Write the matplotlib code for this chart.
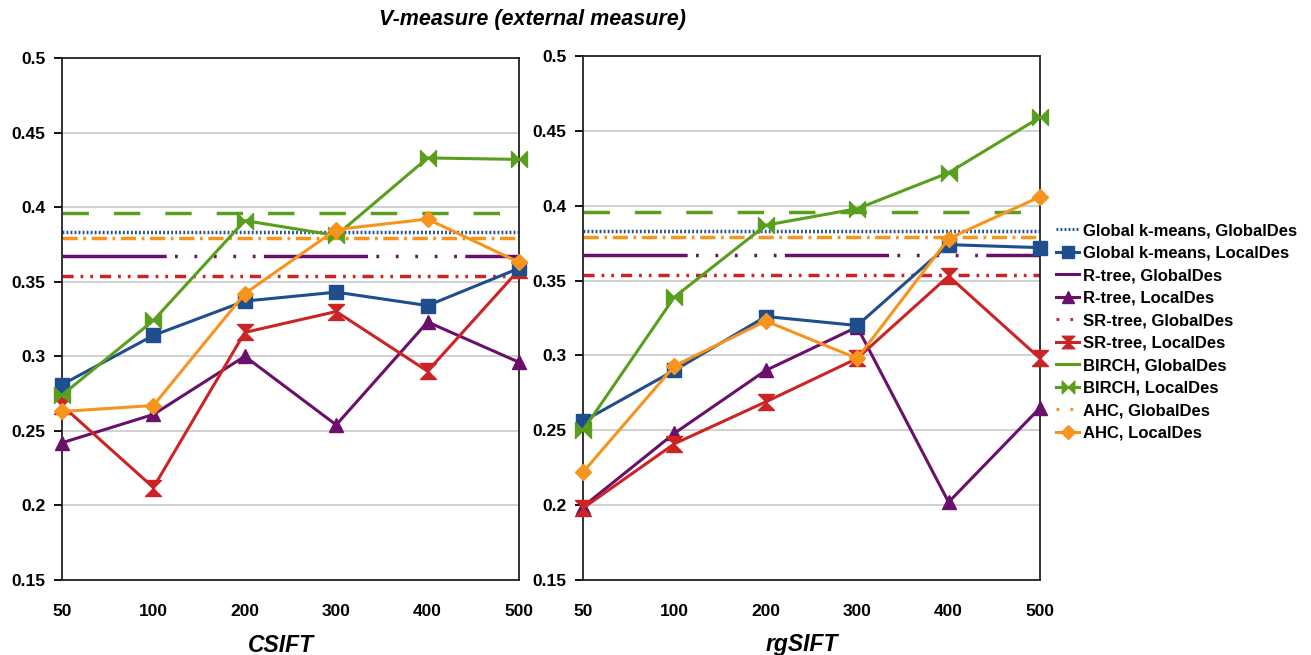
import matplotlib
matplotlib.use("Agg")
import matplotlib.pyplot as plt
from matplotlib.path import Path
from matplotlib.lines import Line2D

plt.rcParams['font.family'] = ['Liberation Sans', 'DejaVu Sans']
plt.rcParams['font.weight'] = 'bold'
plt.rcParams['lines.scale_dashes'] = False

# dados
tamanhos = ['50', '100', '200', '300', '400', '500']
y_ticks = [0.15, 0.2, 0.25, 0.3, 0.35, 0.4, 0.45, 0.5]
y_tick_labels = ['0.15', '0.2', '0.25', '0.3', '0.35', '0.4', '0.45', '0.5']

# valores globais (linhas horizontais), iguais nos dois paineis
kmeans_global = 0.383
rtree_global = 0.367
srtree_global = 0.354
birch_global = 0.396
ahc_global = 0.379

# CSIFT
csift_kmeans_local = [0.281, 0.314, 0.337, 0.343, 0.334, 0.359]
csift_rtree_local = [0.242, 0.261, 0.300, 0.254, 0.323, 0.296]
csift_srtree_local = [0.267, 0.212, 0.316, 0.330, 0.290, 0.358]
csift_birch_local = [0.274, 0.324, 0.391, 0.381, 0.433, 0.432]
csift_ahc_local = [0.263, 0.267, 0.342, 0.385, 0.392, 0.363]

# rgSIFT
rgsift_kmeans_local = [0.256, 0.290, 0.326, 0.320, 0.374, 0.372]
rgsift_rtree_local = [0.199, 0.248, 0.290, 0.319, 0.202, 0.265]
rgsift_srtree_local = [0.198, 0.241, 0.269, 0.298, 0.353, 0.298]
rgsift_birch_local = [0.250, 0.339, 0.387, 0.398, 0.422, 0.459]
rgsift_ahc_local = [0.222, 0.293, 0.323, 0.298, 0.378, 0.406]

azul = '#1f4e8f'
roxo = '#69106b'
vermelho = '#cc2424'
verde = '#5a9e1e'
laranja = '#f7941d'

ampulheta = Path([(-1, 1), (1, 1), (0, 0), (-1, 1), (-1, -1), (1, -1), (0, 0), (-1, -1)],
                 [Path.MOVETO, Path.LINETO, Path.LINETO, Path.CLOSEPOLY,
                  Path.MOVETO, Path.LINETO, Path.LINETO, Path.CLOSEPOLY])
gravata = Path([(-1, 1), (-1, -1), (0, 0), (-1, 1), (1, 1), (1, -1), (0, 0), (1, 1)],
               [Path.MOVETO, Path.LINETO, Path.LINETO, Path.CLOSEPOLY,
                Path.MOVETO, Path.LINETO, Path.LINETO, Path.CLOSEPOLY])

estilo_kmeans = (0, (1.3, 1.6))
estilo_rtree = (0, (75, 6, 2, 12, 2, 12, 2, 12, 2, 12, 2, 6))
estilo_srtree = (0, (8, 5, 2, 5, 2, 5))
estilo_birch = (0, (19, 18))
estilo_ahc = (0, (11, 4, 2, 4))

fig = plt.figure(figsize=(13.11, 6.55), dpi=100)
ax1 = fig.add_axes([62/1311, 1-580/655, 457/1311, 522/655])
ax2 = fig.add_axes([583/1311, 1-580/655, 457/1311, 524/655])

x = list(range(len(tamanhos)))
lw = 2.2


def desenha(ax, kmeans, rtree, srtree, birch, ahc, nome):
    for v in y_ticks:
        ax.axhline(v, color='#c8c8c8', linewidth=1.2, zorder=0)
    ax.axhline(birch_global, color=verde, linewidth=lw + 0.3, linestyle=estilo_birch, zorder=1)
    ax.axhline(kmeans_global, color=azul, linewidth=lw + 0.3, linestyle=estilo_kmeans, zorder=1)
    ax.axhline(ahc_global, color=laranja, linewidth=lw + 0.3, linestyle=estilo_ahc, zorder=1)
    ax.axhline(rtree_global, color=roxo, linewidth=lw + 0.3, linestyle=estilo_rtree, zorder=1)
    ax.axhline(srtree_global, color=vermelho, linewidth=lw + 0.3, linestyle=estilo_srtree, zorder=1)

    ax.plot(x, rtree, color=roxo, linewidth=lw, marker='^', markersize=10.5, clip_on=False, zorder=3)
    ax.plot(x, srtree, color=vermelho, linewidth=lw, marker=ampulheta, markersize=11.5, clip_on=False, zorder=3)
    ax.plot(x, kmeans, color=azul, linewidth=lw, marker='s', markersize=10.5, clip_on=False, zorder=3)
    ax.plot(x, birch, color=verde, linewidth=lw, marker=gravata, markersize=11.5, clip_on=False, zorder=3)
    ax.plot(x, ahc, color=laranja, linewidth=lw, marker='D', markersize=8, clip_on=False, zorder=4)

    ax.set_xlim(0, 5)
    ax.set_ylim(0.15, 0.5)
    ax.set_xticks(x)
    ax.set_xticklabels(tamanhos, fontsize=12.5, fontweight='bold')
    ax.set_yticks(y_ticks)
    ax.set_yticklabels(y_tick_labels, fontsize=12.5, fontweight='bold')
    ax.tick_params(axis='y', direction='out', length=6, width=1.3, pad=6)
    ax.tick_params(axis='x', direction='out', length=0, pad=17)
    for s in ax.spines.values():
        s.set_linewidth(1.3)
        s.set_color('#222222')
    ax.set_xlabel(nome, fontsize=16.5, fontweight='bold', fontstyle='italic')
    ax.xaxis.label.set_verticalalignment('center')


desenha(ax1, csift_kmeans_local, csift_rtree_local, csift_srtree_local,
        csift_birch_local, csift_ahc_local, 'CSIFT')
desenha(ax2, rgsift_kmeans_local, rgsift_rtree_local, rgsift_srtree_local,
        rgsift_birch_local, rgsift_ahc_local, 'rgSIFT')
ax1.xaxis.set_label_coords(0.478, -(645 - 580) / 522)
ax2.xaxis.set_label_coords(0.478, -(645 - 580) / 524)

fig.text(532/1311, 1-20/655, 'V-measure (external measure)', fontsize=15.5,
         fontweight='bold', fontstyle='italic', ha='center', va='center')

legenda = [
    Line2D([], [], color=azul, linewidth=lw, linestyle=(0, (1.3, 1.6))),
    Line2D([], [], color=azul, linewidth=lw, marker='s', markersize=9),
    Line2D([], [], color=roxo, linewidth=lw),
    Line2D([], [], color=roxo, linewidth=lw, marker='^', markersize=9),
    Line2D([], [], color=vermelho, linewidth=lw, linestyle=(0, (2, 8))),
    Line2D([], [], color=vermelho, linewidth=lw, marker=ampulheta, markersize=9),
    Line2D([], [], color=verde, linewidth=lw),
    Line2D([], [], color=verde, linewidth=lw, marker=gravata, markersize=9),
    Line2D([], [], color=laranja, linewidth=lw, linestyle=(0, (2, 8))),
    Line2D([], [], color=laranja, linewidth=lw, marker='D', markersize=7),
]
rotulos = ['Global k-means, GlobalDes', 'Global k-means, LocalDes',
           'R-tree, GlobalDes', 'R-tree, LocalDes',
           'SR-tree, GlobalDes', 'SR-tree, LocalDes',
           'BIRCH, GlobalDes', 'BIRCH, LocalDes',
           'AHC, GlobalDes', 'AHC, LocalDes']
fig.legend(legenda, rotulos, loc='center left', bbox_to_anchor=(1056/1311, 1-332/655),
           frameon=False, fontsize=12, handlelength=1.4, handletextpad=0.2,
           labelspacing=0.45, borderpad=0, borderaxespad=0)

fig.savefig('out.png', dpi=100)
